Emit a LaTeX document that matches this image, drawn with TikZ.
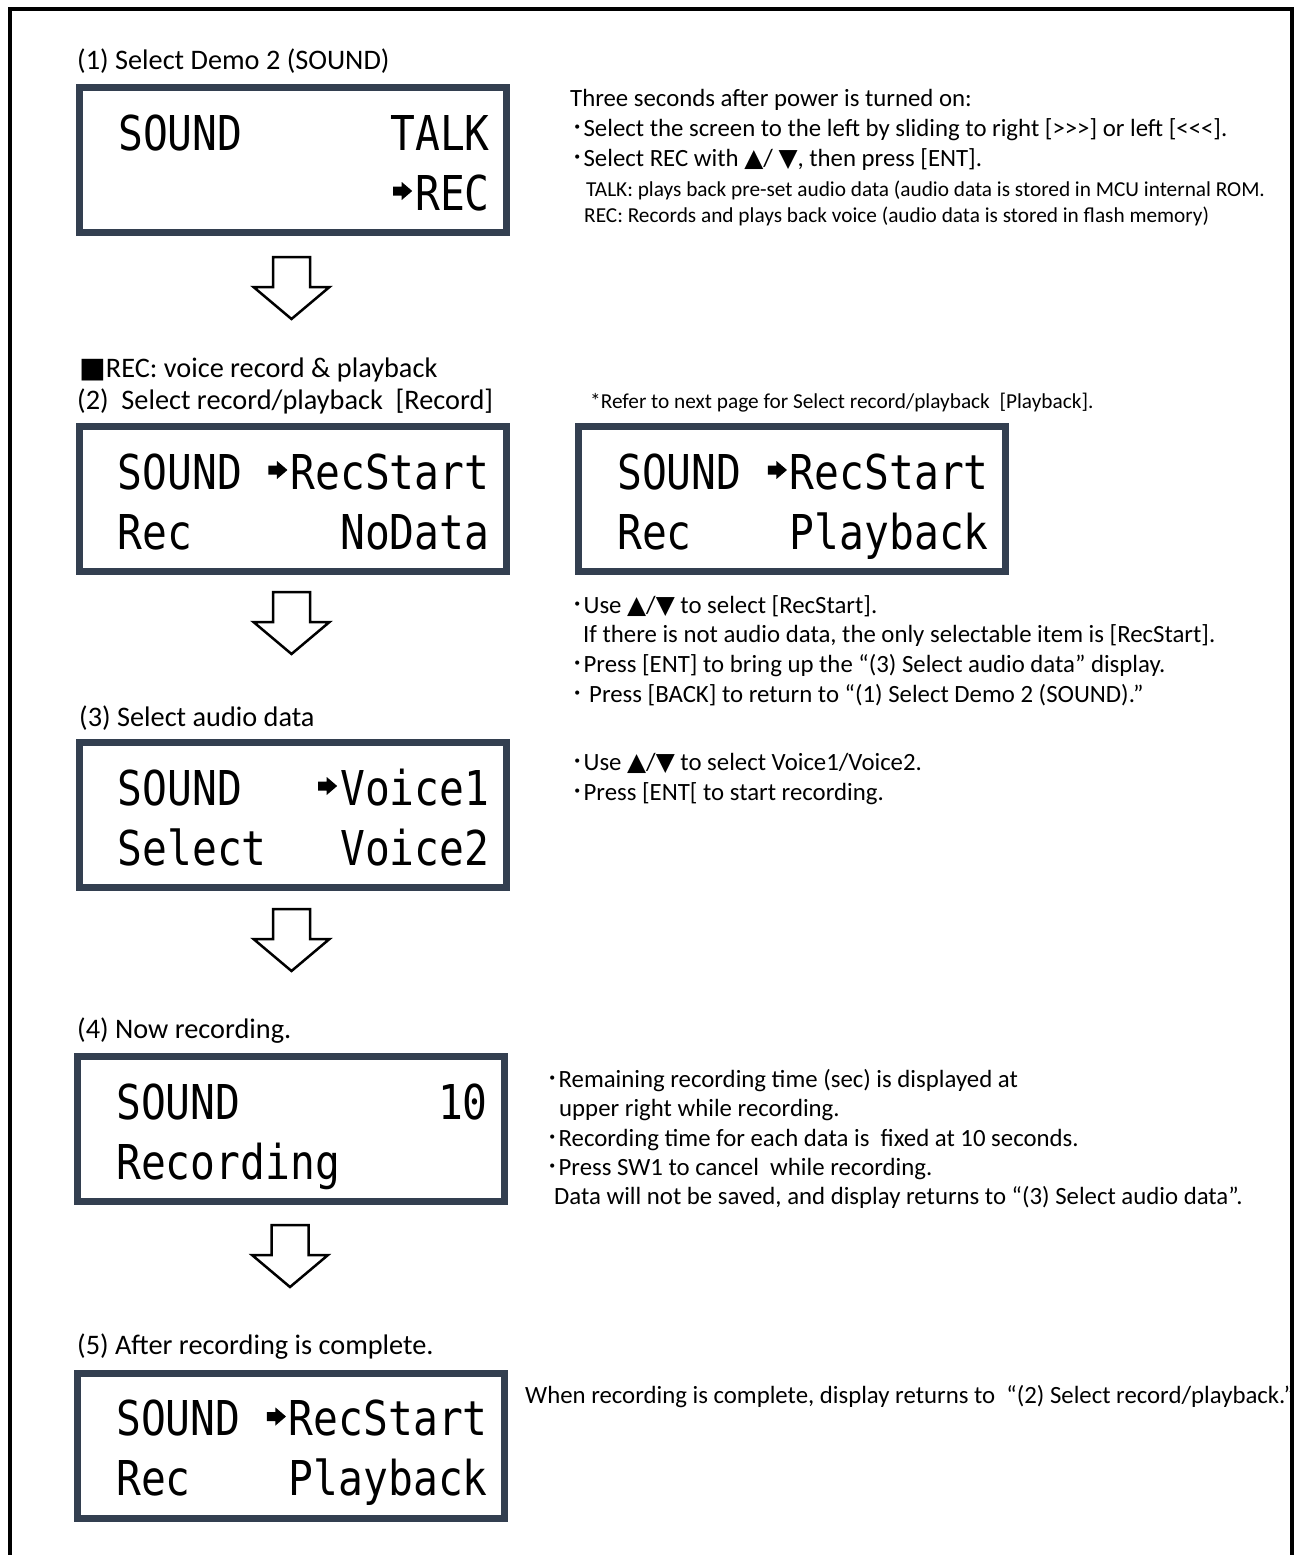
\documentclass[tikz,border=0pt]{standalone}
\usepackage{fontspec}
\setmainfont{Carlito}
\newfontfamily\lcd[FakeStretch=0.86]{DejaVu Sans Mono}
\newfontfamily\sym{DejaVu Sans}
\newfontfamily\jp{Noto Sans CJK JP}
\usetikzlibrary{calc}
\definecolor{lcdframe}{RGB}{51,63,80}
\newcommand\bul{{\jp ･}}
\newcommand\tup{{\sym ▲}}
\newcommand\tdn{{\sym ▼}}
\newcommand\gtr{>\kern0pt}
\newcommand\lss{<\kern0pt}
\newcommand\lcdarr{\makebox[25pt][c]{\tikz[baseline=0pt,x=1pt,y=1pt]\fill[black] (0,14.5) -- (8.5,14.5) -- (8.5,10) -- (19,19) -- (8.5,28) -- (8.5,23.5) -- (0,23.5) -- cycle;}}
\tikzset{
  lcdbox/.style={draw=lcdframe, line width=7pt, minimum width=427pt, minimum height=145pt, inner sep=0pt, outer sep=0pt, fill=white},
  lcdl/.style={anchor=base west, inner sep=0pt, font=\lcd\fontsize{48}{48}\selectfont},
  lcdr/.style={anchor=base east, inner sep=0pt, font=\lcd\fontsize{48}{48}\selectfont},
  head/.style={anchor=base west, inner sep=0pt, font=\fontsize{28.3}{28.3}\selectfont},
  desc/.style={anchor=base west, inner sep=0pt, font=\fontsize{24.8}{24.8}\selectfont},
  note/.style={anchor=base west, inner sep=0pt, font=\fontsize{21.3}{21.3}\selectfont},
  flowarr/.style={draw=black, line width=2.5pt, fill=white, line join=miter},
  downarr/.pic={\path[flowarr] (-18.5,0) -- (18.5,0) -- (18.5,30) -- (38,30) -- (0,62) -- (-38,30) -- (-18.5,30) -- cycle;}
}
\begin{document}
\begin{tikzpicture}[x=1pt,y=-1pt]
\useasboundingbox (0,0) rectangle (1298,1555);
\fill[white] (0,0) rectangle (1298,1555);
\draw[line width=4pt] (10,1555) -- (10,9.5) -- (1292,9.5) -- (1292,1555);

% ---- (1)
\node[head] (h1) at (77,70) {(1) Select Demo 2 (SOUND)};
\node[lcdbox] (b1) at (293,160) {};
\node[lcdl] (b1a) at ($(b1.north west)+(38.5,62.5)$) {SOUND};
\node[lcdr] (b1b) at ($(b1.north east)+(-16.5,62.5)$) {TALK};
\node[lcdr] (b1c) at ($(b1.north east)+(-16.5,122.5)$) {\lcdarr REC};

\node[desc] (d1a) at (570,106.5) {Three seconds after power is turned on:};
\node[desc] (d1b) at (571,136.5) {\bul Select the screen to the left by sliding to right [\gtr\gtr\gtr] or left [\lss\lss\lss].};
\node[desc] (d1c) at (571,166.5) {\bul Select REC with \tup/ \tdn, then press [ENT].};
\node[note] (d1d) at (586,196.5) {TALK: plays back pre-set audio data (audio data is stored in MCU internal ROM.};
\node[note] (d1e) at (584,222.5) {REC: Records and plays back voice (audio data is stored in flash memory)};

\pic at ($(b1.south)+(-1.5,24.5)$) {downarr};

% ---- (2)
\node[head] (hrec) at (79,377) {{\sym ■}REC: voice record \& playback};
\node[head] (h2) at (77,409) {(2)\ \ Select record/playback\ \ [Record]};
\node[note] (ref) at (590,408.5) {*Refer to next page for Select record/playback\ \ [Playback].};

\node[lcdbox] (b2) at (292.5,499) {};
\node[lcdl] (b2a) at ($(b2.north west)+(38.5,62.5)$) {SOUND};
\node[lcdr] (b2b) at ($(b2.north east)+(-16.5,62.5)$) {\lcdarr RecStart};
\node[lcdl] (b2c) at ($(b2.north west)+(38.5,122.5)$) {Rec};
\node[lcdr] (b2d) at ($(b2.north east)+(-16.5,122.5)$) {NoData};

\node[lcdbox] (c2) at (792,499) {};
\node[lcdl] (c2a) at ($(c2.north west)+(38.5,62.5)$) {SOUND};
\node[lcdr] (c2b) at ($(c2.north east)+(-16.5,62.5)$) {\lcdarr RecStart};
\node[lcdl] (c2c) at ($(c2.north west)+(38.5,122.5)$) {Rec};
\node[lcdr] (c2d) at ($(c2.north east)+(-16.5,122.5)$) {Playback};

\node[desc] (d2a) at (571,613.5) {\bul Use \tup/\tdn\ to select [RecStart].};
\node[desc] (d2b) at (583,642.5) {If there is not audio data, the only selectable item is [RecStart].};
\node[desc] (d2c) at (571,672.5) {\bul Press [ENT] to bring up the “(3) Select audio data” display.};
\node[desc] (d2d) at (571,702.5) {\bul\ Press [BACK] to return to “(1) Select Demo 2 (SOUND).”};

\pic at ($(b2.south)+(-1,20.5)$) {downarr};

% ---- (3)
\node[head] (h3) at (79,726) {(3) Select audio data};
\node[lcdbox] (b3) at (292.5,815) {};
\node[lcdl] (b3a) at ($(b3.north west)+(38.5,62.5)$) {SOUND};
\node[lcdr] (b3b) at ($(b3.north east)+(-16.5,62.5)$) {\lcdarr Voice1};
\node[lcdl] (b3c) at ($(b3.north west)+(38.5,122.5)$) {Select};
\node[lcdr] (b3d) at ($(b3.north east)+(-16.5,122.5)$) {Voice2};

\node[desc] (d3a) at (571,770.5) {\bul Use \tup/\tdn\ to select Voice1/Voice2.};
\node[desc] (d3b) at (571,800.5) {\bul Press [ENT[ to start recording.};

\pic at ($(b3.south)+(-1,21.5)$) {downarr};

% ---- (4)
\node[head] (h4) at (77,1038) {(4) Now recording.};
\node[lcdbox] (b4) at (291,1129) {};
\node[lcdl] (b4a) at ($(b4.north west)+(38.5,62.5)$) {SOUND};
\node[lcdr] (b4b) at ($(b4.north east)+(-16.5,62.5)$) {10};
\node[lcdl] (b4c) at ($(b4.north west)+(38.5,122.5)$) {Recording};

\node[desc] (d4a) at (546,1087.5) {\bul Remaining recording time (sec) is displayed at};
\node[desc] (d4b) at (559,1116.5) {upper right while recording.};
\node[desc] (d4c) at (546,1146.5) {\bul Recording time for each data is\ \ fixed at 10 seconds.};
\node[desc] (d4d) at (546,1175.5) {\bul Press SW1 to cancel\ \ while recording.};
\node[desc] (d4e) at (554,1204.5) {Data will not be saved, and display returns to “(3) Select audio data”.};

\pic at ($(b4.south)+(-1,23.5)$) {downarr};

% ---- (5)
\node[head] (h5) at (77,1354) {(5) After recording is complete.};
\node[lcdbox] (b5) at (291,1445.5) {};
\node[lcdl] (b5a) at ($(b5.north west)+(38.5,62.5)$) {SOUND};
\node[lcdr] (b5b) at ($(b5.north east)+(-16.5,62.5)$) {\lcdarr RecStart};
\node[lcdl] (b5c) at ($(b5.north west)+(38.5,122.5)$) {Rec};
\node[lcdr] (b5d) at ($(b5.north east)+(-16.5,122.5)$) {Playback};

\node[desc] (d5a) at (525,1403.5) {When recording is complete, display returns to\ \ “(2) Select record/playback.”};
\end{tikzpicture}
\end{document}
